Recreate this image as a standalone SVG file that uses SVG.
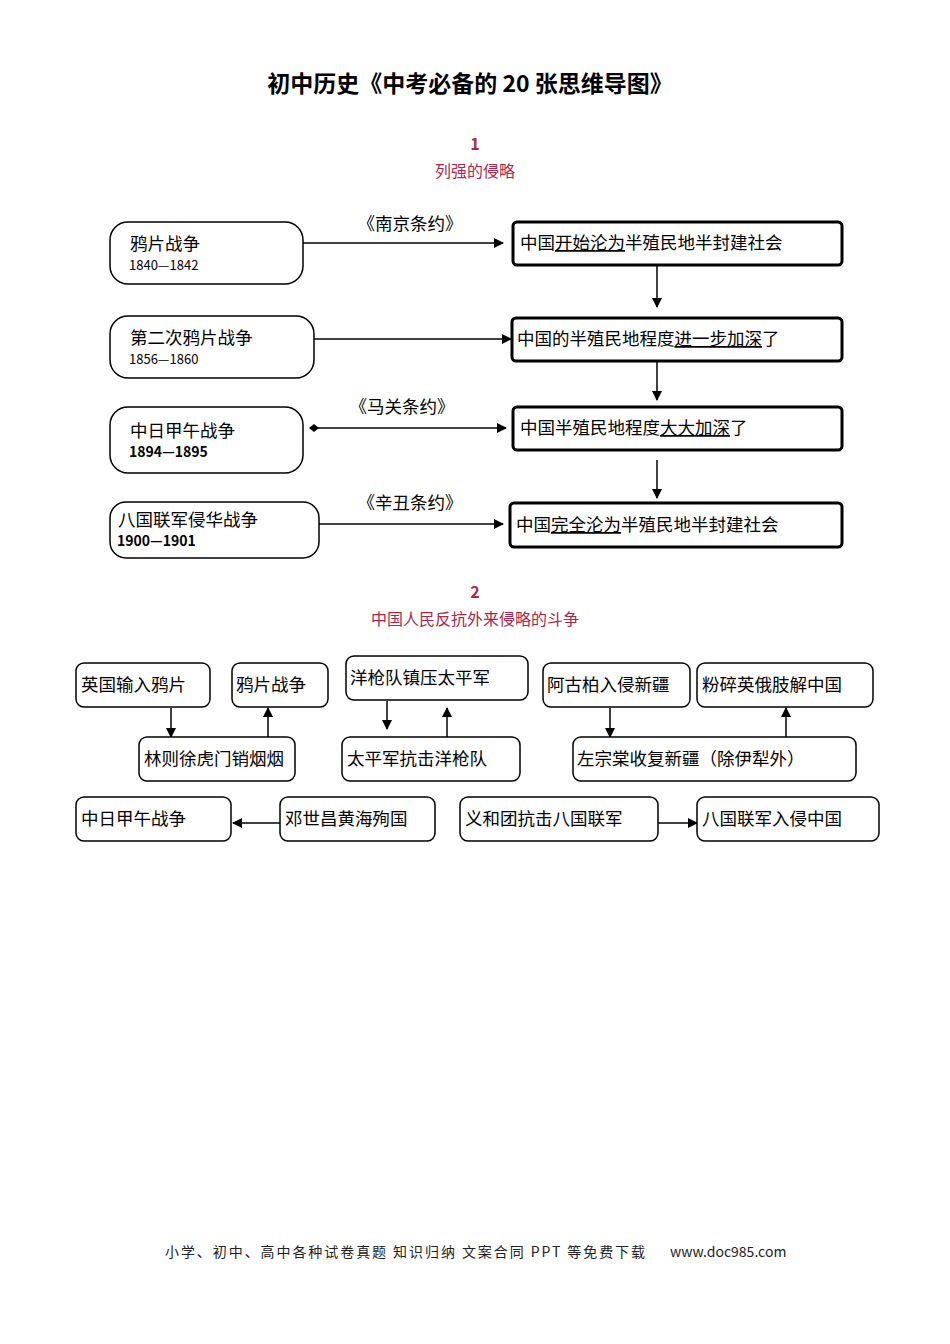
<svg xmlns="http://www.w3.org/2000/svg" width="950" height="1344" viewBox="0 0 950 1344">
<style>
text{font-family:"Noto Sans CJK SC","Liberation Sans",sans-serif;fill:#000}
.t{font-size:23px;font-weight:bold}
.h{font-size:16px;fill:#b0264a}
.n{font-size:17.5px}
.y{font-size:13px}
.yb{font-size:14px;font-weight:bold}
.lb{fill:#fff;stroke:#000;stroke-width:1.5}
.rb{fill:#fff;stroke:#000;stroke-width:3}
.sb{fill:#fff;stroke:#000;stroke-width:1.5}
.c line{stroke:#000;stroke-width:1.5}
.u{text-decoration:underline}
.f{font-size:14px;fill:#222}
</style>
<defs>
<marker id="a" markerWidth="10" markerHeight="10" refX="9" refY="5" orient="auto" markerUnits="userSpaceOnUse"><path d="M0,0 L10,5 L0,10 z" fill="#000"/></marker>
<marker id="d" markerWidth="10" markerHeight="8" refX="1" refY="4" orient="auto" markerUnits="userSpaceOnUse"><path d="M0,4 L5,0 L10,4 L5,8 z" fill="#000"/></marker>
</defs>
<text class="t" x="470" y="92" text-anchor="middle">初中历史《中考必备的 20 张思维导图》</text>
<text class="h" x="475" y="150" text-anchor="middle" font-weight="bold">1</text>
<text class="h" x="475" y="177" text-anchor="middle">列强的侵略</text>
<g class="c">
<line x1="303" y1="243" x2="503" y2="243" marker-end="url(#a)"/>
<line x1="314" y1="339" x2="511" y2="339" marker-end="url(#a)"/>
<line x1="310" y1="428" x2="506" y2="428" marker-start="url(#d)" marker-end="url(#a)"/>
<line x1="319" y1="524" x2="503" y2="524" marker-end="url(#a)"/>
<line x1="657" y1="266" x2="657" y2="307" marker-end="url(#a)"/>
<line x1="657" y1="362" x2="657" y2="400" marker-end="url(#a)"/>
<line x1="657" y1="460" x2="657" y2="498" marker-end="url(#a)"/>
<line x1="171" y1="708" x2="171" y2="737" marker-end="url(#a)"/>
<line x1="268" y1="737" x2="268" y2="708" marker-end="url(#a)"/>
<line x1="387" y1="701" x2="387" y2="729" marker-end="url(#a)"/>
<line x1="447" y1="737" x2="447" y2="708" marker-end="url(#a)"/>
<line x1="610" y1="708" x2="610" y2="737" marker-end="url(#a)"/>
<line x1="786" y1="737" x2="786" y2="708" marker-end="url(#a)"/>
<line x1="280" y1="823" x2="233" y2="823" marker-end="url(#a)"/>
<line x1="658" y1="823" x2="697" y2="823" marker-end="url(#a)"/>
</g>
<text class="n" x="410" y="230" text-anchor="middle">《南京条约》</text>
<text class="n" x="402" y="413" text-anchor="middle">《马关条约》</text>
<text class="n" x="410" y="509" text-anchor="middle">《辛丑条约》</text>
<g id="l1"><rect class="lb" x="110" y="222" width="193" height="62" rx="18"/><text class="n" x="130" y="250">鸦片战争</text><text class="y" x="129" y="270">1840—1842</text></g>
<g id="l2"><rect class="lb" x="110" y="316" width="204" height="62" rx="18"/><text class="n" x="130" y="344">第二次鸦片战争</text><text class="y" x="129" y="364">1856—1860</text></g>
<g id="l3"><rect class="lb" x="110" y="407" width="193" height="66" rx="18"/><text class="n" x="130" y="437">中日甲午战争</text><text class="yb" x="129" y="457">1894—1895</text></g>
<g id="l4"><rect class="lb" x="110" y="502" width="209" height="56" rx="16"/><text class="n" x="118" y="526">八国联军侵华战争</text><text class="yb" x="117" y="546">1900—1901</text></g>
<g id="r1"><rect class="rb" x="513" y="222" width="329" height="43" rx="4"/><text class="n" x="520" y="249">中国<tspan class="u">开始沦为</tspan>半殖民地半封建社会</text></g>
<g id="r2"><rect class="rb" x="512" y="318" width="330" height="43" rx="4"/><text class="n" x="517" y="345">中国的半殖民地程度<tspan class="u">进一步加深</tspan>了</text></g>
<g id="r3"><rect class="rb" x="513" y="407" width="329" height="43" rx="4"/><text class="n" x="520" y="434">中国半殖民地程度<tspan class="u">大大加深</tspan>了</text></g>
<g id="r4"><rect class="rb" x="510" y="503" width="332" height="44" rx="4"/><text class="n" x="516" y="531">中国<tspan class="u">完全沦为</tspan>半殖民地半封建社会</text></g>
<text class="h" x="475" y="598" text-anchor="middle" font-weight="bold">2</text>
<text class="h" x="475" y="625" text-anchor="middle">中国人民反抗外来侵略的斗争</text>
<g id="b1"><rect class="sb" x="76" y="663" width="134" height="44" rx="8"/><text class="n" x="81" y="691">英国输入鸦片</text></g>
<g id="b2"><rect class="sb" x="232" y="663" width="96" height="44" rx="8"/><text class="n" x="236" y="691">鸦片战争</text></g>
<g id="b3"><rect class="sb" x="139" y="737" width="156" height="44" rx="8"/><text class="n" x="144" y="765">林则徐虎门销烟烟</text></g>
<g id="b4"><rect class="sb" x="346" y="656" width="182" height="44" rx="8"/><text class="n" x="350" y="684">洋枪队镇压太平军</text></g>
<g id="b5"><rect class="sb" x="342" y="737" width="178" height="44" rx="8"/><text class="n" x="347" y="765">太平军抗击洋枪队</text></g>
<g id="b6"><rect class="sb" x="543" y="663" width="147" height="44" rx="8"/><text class="n" x="547" y="691">阿古柏入侵新疆</text></g>
<g id="b7"><rect class="sb" x="697" y="663" width="176" height="44" rx="8"/><text class="n" x="702" y="691">粉碎英俄肢解中国</text></g>
<g id="b8"><rect class="sb" x="573" y="737" width="283" height="44" rx="8"/><text class="n" x="577" y="765">左宗棠收复新疆（除伊犁外）</text></g>
<g id="b9"><rect class="sb" x="76" y="797" width="155" height="44" rx="8"/><text class="n" x="81" y="825">中日甲午战争</text></g>
<g id="b10"><rect class="sb" x="280" y="797" width="155" height="44" rx="8"/><text class="n" x="285" y="825">邓世昌黄海殉国</text></g>
<g id="b11"><rect class="sb" x="460" y="797" width="198" height="44" rx="8"/><text class="n" x="465" y="825">义和团抗击八国联军</text></g>
<g id="b12"><rect class="sb" x="697" y="797" width="182" height="44" rx="8"/><text class="n" x="702" y="825">八国联军入侵中国</text></g>
<text class="f" x="165" y="1257" textLength="480" lengthAdjust="spacing">小学、初中、高中各种试卷真题  知识归纳  文案合同  PPT 等免费下载</text>
<text class="f" x="670" y="1257">www.doc985.com</text>
</svg>
